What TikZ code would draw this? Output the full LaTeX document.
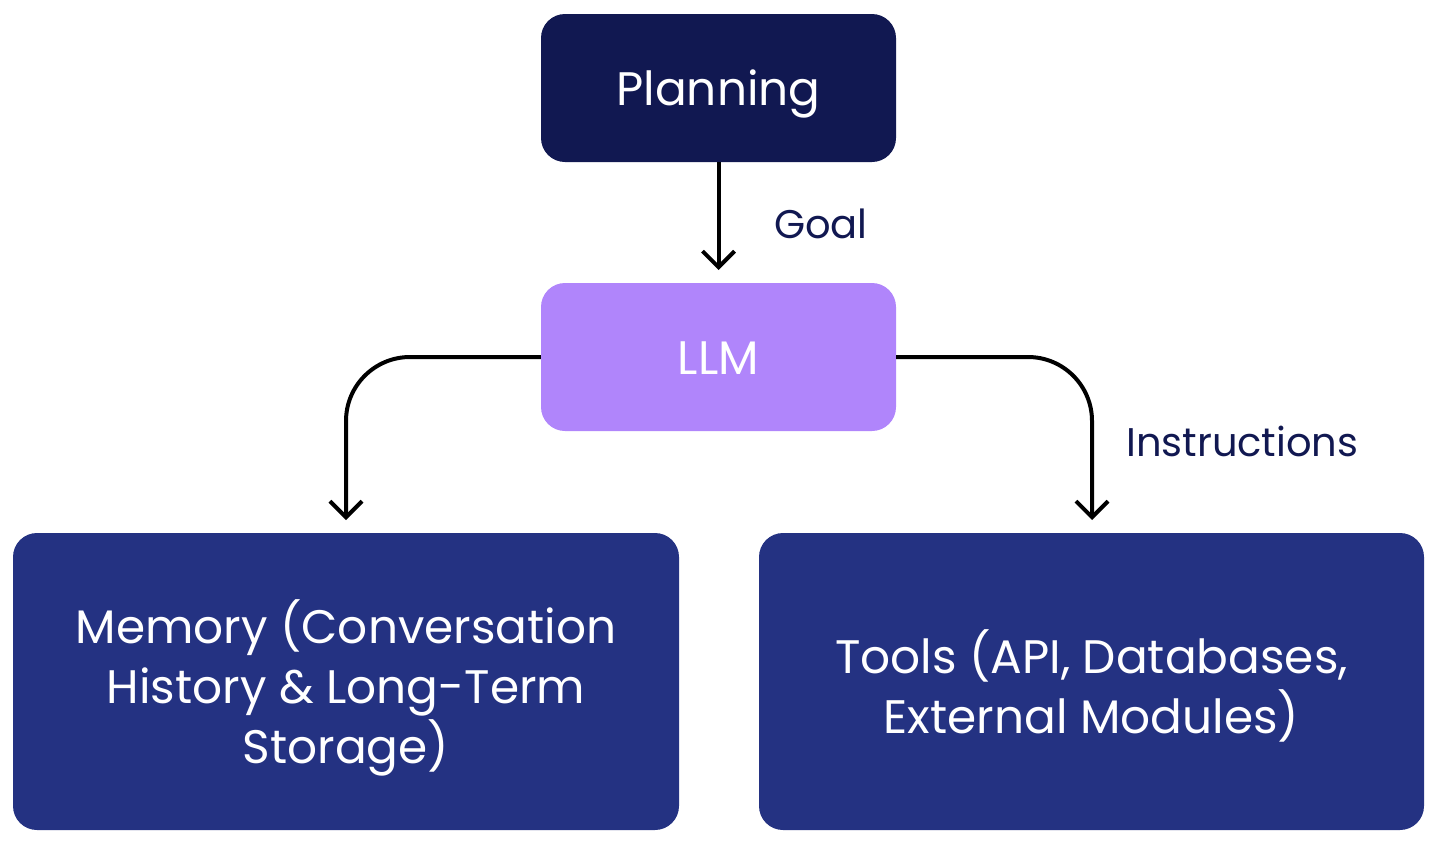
\documentclass[tikz,border=0pt]{standalone}
\usepackage{fontspec}
\setmainfont{Poppins}
\usetikzlibrary{arrows.meta}
\definecolor{navy}{HTML}{111851}
\definecolor{llmpurple}{HTML}{B085FB}
\definecolor{boxblue}{HTML}{243282}
\tikzset{
  box/.style={rounded corners=24pt, inner sep=0pt, text=white, align=center, font=\fontsize{47}{60}\selectfont},
  conn/.style={line width=4pt, draw=black, -{Straight Barb[length=16pt,width=32pt,line width=4pt]}},
  lbl/.style={text=navy, font=\fontsize{40}{48}\selectfont, inner sep=0pt}
}
\begin{document}
\begin{tikzpicture}[x=1pt,y=-1pt]
\useasboundingbox (0,0) rectangle (1437,844);
\node[box, fill=navy, minimum width=355pt, minimum height=148pt, text height=34pt, text depth=0pt] (plan) at (718.5,88) {Planning};
\node[box, fill=llmpurple, minimum width=355pt, minimum height=148pt, text height=34pt, text depth=0pt] (llm) at (718.5,357) {LLM};
\node[box, fill=boxblue, minimum width=666pt, minimum height=297pt] (mem) at (346,681.5) {};
\node[text=white, align=center, font=\fontsize{47}{60}\selectfont, inner sep=0pt] (memtext) at ([yshift=-6pt]mem.center) {Memory (Conversation\\History \& Long-Term\\Storage)};
\node[box, fill=boxblue, minimum width=665pt, minimum height=297pt] (tools) at (1091.5,681.5) {};
\node[text=white, align=center, font=\fontsize{47}{60}\selectfont, inner sep=0pt] (tooltext) at ([yshift=-4pt]tools.center) {Tools (API, Databases,\\External Modules)};
\coordinate (memtop) at (346,520);
\coordinate (tooltop) at (1092,520);
\coordinate (llmtip) at (718.5,270);
\draw[conn] (plan.south) -- (llmtip);
\draw[conn, rounded corners=64pt] (llm.west) -| (memtop);
\draw[conn, rounded corners=64pt] (llm.east) -| (tooltop);
\node[lbl, anchor=west] (goal) at (774,224) {Goal};
\node[lbl, anchor=west] (instr) at (1126,441) {Instructions};
\end{tikzpicture}
\end{document}
